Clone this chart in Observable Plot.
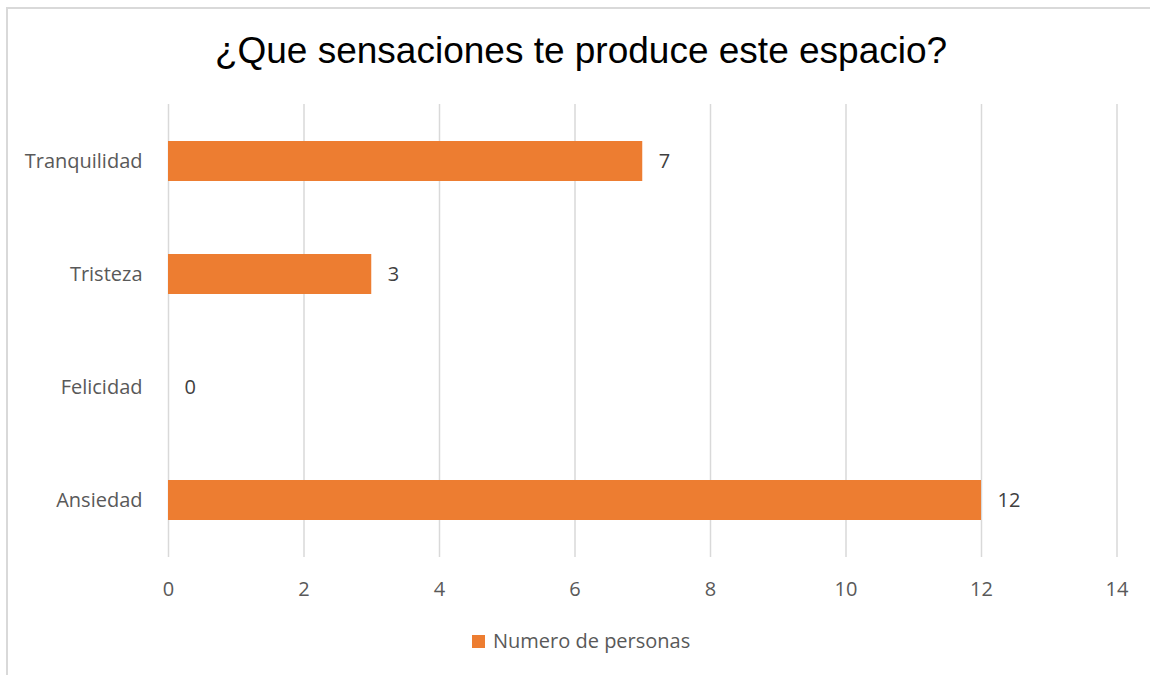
<!DOCTYPE html>
<html>
<head>
<meta charset="utf-8">
<script src="https://cdn.jsdelivr.net/npm/d3@7"></script>
<script src="https://cdn.jsdelivr.net/npm/@observablehq/plot@0.6"></script>
<style>
  html, body { margin: 0; padding: 0; background: #fff; overflow: hidden; }
  body { width: 1150px; height: 675px; position: relative; }
  #frame { position: absolute; left: 6px; top: 7px; width: 1200px; height: 700px; border: 2px solid #d9d9d9; box-sizing: border-box; }
  #title { position: absolute; left: 6px; top: 32px; width: 1150px; text-align: center; font-family: "Liberation Sans", Arial, sans-serif; font-size: 37px; line-height: 1; color: #000; }
  #chart { position: absolute; left: 0; top: 90px; }
  #legend { position: absolute; left: 472px; top: 629px; height: 24px; display: flex; align-items: center; font-family: "Open Sans", sans-serif; font-size: 20px; color: #595959; line-height: 24px; }
  #legend .sw { width: 13px; height: 13px; margin-right: 8px; }
</style>
</head>
<body>
<div id="frame"></div>
<div id="title"></div>
<div id="chart"></div>
<div id="legend"></div>
<script>
const title = "¿Que sensaciones te produce este espacio?";
const categories = ["Tranquilidad", "Tristeza", "Felicidad", "Ansiedad"];
const values = [7, 3, 0, 12];
const xTicks = [0, 2, 4, 6, 8, 10, 12, 14];
const seriesName = "Numero de personas";
const barColor = "#ED7D31";

const data = categories.map((c, i) => ({category: c, value: values[i]}));

document.getElementById("title").textContent = title;

const chart = Plot.plot({
  width: 1150,
  height: 530,
  marginLeft: 168,
  marginRight: 33.5,
  marginTop: 14,
  marginBottom: 63,
  style: {fontFamily: "'Open Sans', sans-serif", fontSize: "20px", background: "transparent"},
  x: {domain: [0, 14], ticks: xTicks, label: null},
  y: {domain: categories, paddingInner: 0.647, paddingOuter: 0.3235, label: null},
  marks: [
    Plot.gridX(xTicks, {stroke: "#d9d9d9", strokeOpacity: 1, strokeWidth: 1.5}),
    Plot.barX(data, {x: "value", y: "category", fill: barColor}),
    Plot.text(data, {x: "value", y: "category", text: d => String(d.value), dx: 16, textAnchor: "start", fill: "#404040", fontSize: 20}),
    Plot.axisX({ticks: xTicks, tickSize: 0, tickPadding: 24, fontSize: 20, color: "#595959", label: null}),
    Plot.axisY({tickSize: 0, tickPadding: 26, fontSize: 20, color: "#595959", label: null})
  ]
});
document.getElementById("chart").appendChild(chart);

const legend = document.getElementById("legend");
const sw = document.createElement("span");
sw.className = "sw";
sw.style.background = barColor;
const lt = document.createElement("span");
lt.textContent = seriesName;
legend.appendChild(sw);
legend.appendChild(lt);
</script>
</body>
</html>
